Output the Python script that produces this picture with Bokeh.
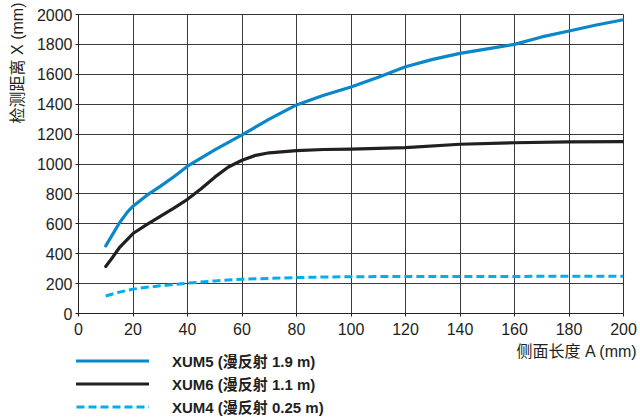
from bokeh.plotting import figure
from bokeh.layouts import column
from bokeh.models import Range1d, FixedTicker, Legend, LegendItem, Title, Label
from bokeh.embed import file_html
from bokeh.resources import INLINE

# ---- data ----
x_xum5 = [10, 15, 18, 20, 25, 30, 35, 40, 50, 60, 70, 80, 90, 100, 110, 120, 130, 140, 150, 160, 170, 180, 190, 200]
y_xum5 = [452, 605, 680, 718, 790, 850, 915, 985, 1095, 1195, 1300, 1395, 1460, 1515, 1580, 1650, 1700, 1740, 1770, 1800, 1850, 1890, 1930, 1965]

x_xum6 = [10, 12, 15, 20, 25, 30, 35, 40, 45, 50, 55, 60, 65, 70, 80, 90, 100, 120, 140, 160, 180, 200]
y_xum6 = [315, 363, 440, 535, 595, 650, 705, 764, 835, 912, 980, 1025, 1058, 1075, 1090, 1097, 1100, 1110, 1132, 1142, 1148, 1150]

x_xum4 = [10, 15, 20, 25, 30, 40, 50, 60, 70, 80, 90, 100, 120, 140, 160, 180, 200]
y_xum4 = [117, 143, 163, 175, 185, 203, 218, 229, 235, 240, 244, 246, 248, 248, 248, 249, 250]

series_labels = ["XUM5 (漫反射 1.9 m)", "XUM6 (漫反射 1.1 m)", "XUM4 (漫反射 0.25 m)"]
x_ticks = list(range(0, 201, 20))
y_ticks = list(range(0, 2001, 200))
x_title = "侧面长度 A (mm)"
y_title = "检测距离 X (mm)"

FONT = "Liberation Sans, Noto Sans CJK SC"
C5, C6, C4 = "#0a87c8", "#231f20", "#00aeef"

# ---------------- main chart ----------------
p = figure(frame_width=545, frame_height=299,
           x_range=Range1d(0, 200), y_range=Range1d(0, 2000),
           output_backend="svg", toolbar_location=None,
           min_border_left=78, min_border_right=17,
           min_border_top=14, min_border_bottom=29)
p.frame_align = False

p.background_fill_color = "white"
p.border_fill_color = "white"
p.outline_line_color = "#333333"

for ax in (p.xaxis[0], p.yaxis[0]):
    ax.axis_line_color = "#222222"
    ax.major_tick_line_color = "#222222"
    ax.major_tick_out = 3
    ax.major_tick_in = 0
    ax.minor_tick_line_color = None
    ax.major_label_text_font = FONT
    ax.major_label_text_font_size = "16px"
    ax.major_label_text_color = "#231f20"

p.xaxis[0].ticker = FixedTicker(ticks=x_ticks)
p.yaxis[0].ticker = FixedTicker(ticks=y_ticks)
p.xaxis[0].major_label_standoff = 6
p.yaxis[0].major_label_standoff = 3

p.xgrid[0].ticker = FixedTicker(ticks=x_ticks)
p.ygrid[0].ticker = FixedTicker(ticks=y_ticks)
p.xgrid.grid_line_color = "#3a3a3a"
p.ygrid.grid_line_color = "#3a3a3a"

p.line(x_xum5, y_xum5, line_color=C5, line_width=3.2, line_cap="round", line_join="round")
p.line(x_xum6, y_xum6, line_color=C6, line_width=3.2, line_cap="round", line_join="round")
p.line(x_xum4, y_xum4, line_color=C4, line_width=3, line_dash="8 4")

p.add_layout(Title(text=y_title, align="right", vertical_align="top", standoff=12, offset=-12,
                   text_font=FONT, text_font_size="16px", text_font_style="normal",
                   text_color="#231f20"), "left")

# ---------------- legend strip ----------------
q = figure(width=640, height=77, x_range=Range1d(0, 640), y_range=Range1d(0, 77),
           output_backend="svg", toolbar_location=None,
           x_axis_location=None, y_axis_location=None,
           min_border_left=0, min_border_right=0, min_border_top=0, min_border_bottom=0)
q.frame_align = False
q.grid.visible = False
q.outline_line_color = None
q.background_fill_color = "white"
q.border_fill_color = "white"

k5 = q.line(x_xum5, y_xum5, line_color=C5, line_width=3.2, line_cap="round", visible=False)
k6 = q.line(x_xum6, y_xum6, line_color=C6, line_width=3.2, line_cap="round", visible=False)
k4 = q.line(x_xum4, y_xum4, line_color=C4, line_width=3, line_dash="8 4", visible=False)

legend = Legend(items=[LegendItem(label=series_labels[0], renderers=[k5]),
                       LegendItem(label=series_labels[1], renderers=[k6]),
                       LegendItem(label=series_labels[2], renderers=[k4])],
                location=(76, 2), orientation="vertical",
                glyph_width=73, glyph_height=21, label_height=21,
                label_standoff=23, spacing=2, padding=0, margin=0,
                border_line_color=None, background_fill_alpha=0,
                inactive_fill_alpha=0,
                label_text_font=FONT, label_text_font_size="15px",
                label_text_font_style="bold", label_text_color="#231f20")
q.add_layout(legend, "center")

q.add_layout(Label(x=637, y=68.5, text=x_title,
                   text_align="right", text_baseline="middle",
                   text_font=FONT, text_font_size="16px", text_color="#231f20"))

open("out.html", "w").write(file_html(column(p, q, spacing=0), INLINE))
